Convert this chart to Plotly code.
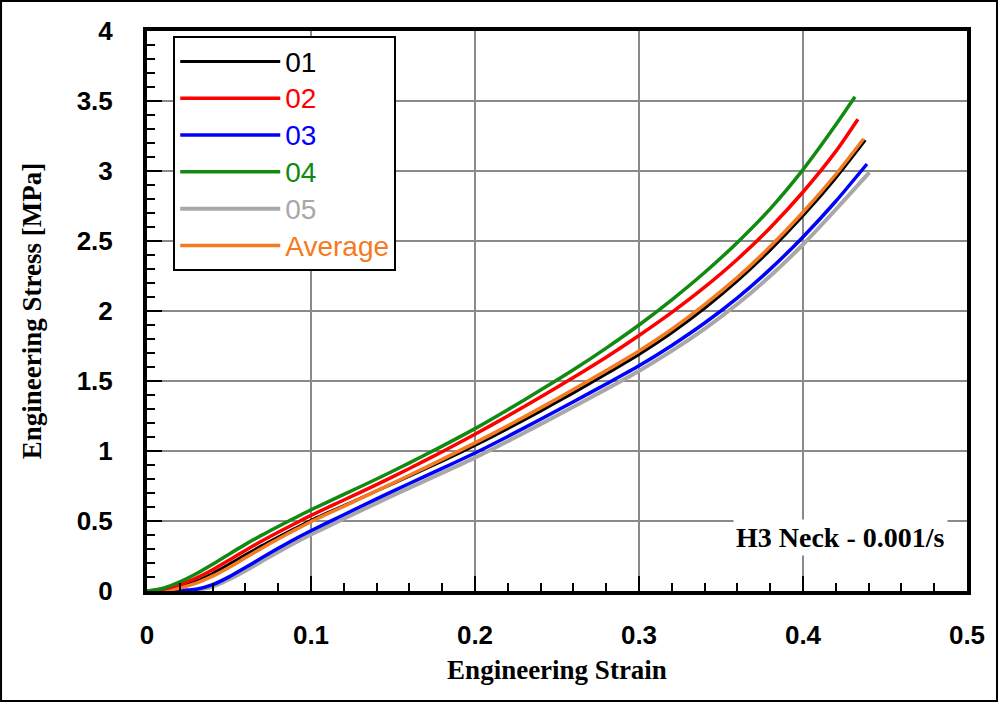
import plotly.graph_objects as go

# ---- data ----
strain_grid = [0, 0.01, 0.02, 0.03, 0.04, 0.05, 0.06, 0.07, 0.08, 0.09, 0.10,
               0.12, 0.14, 0.16, 0.18, 0.20, 0.22, 0.24, 0.26, 0.28, 0.30,
               0.32, 0.34, 0.36, 0.38, 0.40, 0.42]

end_strain_01 = 0.438
end_strain_02 = 0.4335
end_strain_03 = 0.439
end_strain_04 = 0.4317
end_strain_05 = 0.4405
end_strain_avg = 0.437

stress_01 = [0, 0.005, 0.03, 0.07, 0.125, 0.19, 0.258, 0.324, 0.386, 0.446, 0.505,
             0.61, 0.715, 0.82, 0.927, 1.04, 1.16, 1.285, 1.415, 1.55, 1.69,
             1.845, 2.02, 2.215, 2.435, 2.68, 2.95, 3.22]
stress_02 = [0, 0.012, 0.045, 0.092, 0.152, 0.22, 0.29, 0.357, 0.42, 0.48, 0.54,
             0.65, 0.76, 0.875, 0.995, 1.12, 1.25, 1.385, 1.525, 1.67, 1.825,
             1.99, 2.17, 2.37, 2.595, 2.85, 3.14, 3.37]
stress_03 = [0, 0, 0.002, 0.012, 0.045, 0.101, 0.168, 0.237, 0.305, 0.37, 0.43,
             0.545, 0.658, 0.768, 0.876, 0.986, 1.104, 1.227, 1.352, 1.479, 1.609,
             1.754, 1.914, 2.094, 2.299, 2.529, 2.784, 3.05]
stress_04 = [0, 0.02, 0.065, 0.123, 0.191, 0.263, 0.333, 0.399, 0.461, 0.521, 0.58,
             0.69, 0.80, 0.915, 1.035, 1.16, 1.295, 1.435, 1.58, 1.735, 1.90,
             2.08, 2.275, 2.49, 2.73, 3.01, 3.33, 3.53]
stress_05 = [0, 0, 0.001, 0.008, 0.032, 0.082, 0.145, 0.212, 0.279, 0.343, 0.403,
             0.516, 0.628, 0.737, 0.844, 0.953, 1.07, 1.192, 1.316, 1.442, 1.572,
             1.715, 1.873, 2.05, 2.25, 2.475, 2.725, 2.99]
stress_avg = [0, 0.004, 0.022, 0.056, 0.106, 0.168, 0.237, 0.306, 0.372, 0.435, 0.495,
              0.605, 0.715, 0.827, 0.94, 1.058, 1.18, 1.308, 1.44, 1.575, 1.715,
              1.87, 2.045, 2.24, 2.46, 2.705, 2.975, 3.23]

series_names = ["01", "02", "03", "04", "05", "Average"]
series_colors = ["#000000", "#ff0000", "#0000ff", "#108a10", "#a8a8a8", "#f57a20"]
series_stress = [stress_01, stress_02, stress_03, stress_04, stress_05, stress_avg]
series_end = [end_strain_01, end_strain_02, end_strain_03, end_strain_04,
              end_strain_05, end_strain_avg]
series_width = [3, 3.5, 3.5, 3.5, 4, 3.5]

# draw order (gray under blue, black under orange); legend order via legendrank
draw_order = [4, 0, 2, 5, 1, 3]

fig = go.Figure()
for i in draw_order:
    fig.add_trace(go.Scatter(
        x=strain_grid + [series_end[i]],
        y=series_stress[i],
        mode="lines",
        line=dict(color=series_colors[i], width=series_width[i], shape="spline", smoothing=0.7),
        name=f'<span style="color:{series_colors[i]};font-size:28px">{series_names[i]}</span>',
        legendrank=i + 1,
    ))

axis_common = dict(
    showgrid=True, gridcolor="#8a8a8a", gridwidth=2,
    showline=True, linecolor="black", linewidth=4, mirror=True,
    ticks="inside", ticklen=15, tickwidth=2, tickcolor="black",
    zeroline=False,
    tickfont=dict(family="Liberation Sans, Arial", size=26, color="black", weight="bold"),
)

fig.update_layout(
    width=999, height=712,
    margin=dict(l=147, r=32, t=31, b=121),
    plot_bgcolor="white", paper_bgcolor="white",
    font=dict(family="Liberation Sans, Arial", size=26, color="black"),
    xaxis=dict(
        range=[0, 0.5], dtick=0.1, tick0=0,
        minor=dict(dtick=0.02, ticks="inside", ticklen=8, tickwidth=2,
                   tickcolor="black", showgrid=False),
        ticklabelstandoff=18,
        title=dict(text="Engineering Strain", standoff=12,
                   font=dict(family="Liberation Serif, Times New Roman", size=27,
                             color="black", weight="bold")),
        **axis_common,
    ),
    yaxis=dict(
        range=[0, 4], dtick=0.5, tick0=0,
        minor=dict(dtick=0.1, ticks="inside", ticklen=8, tickwidth=2,
                   tickcolor="black", showgrid=False),
        ticklabelstandoff=25,
        title=dict(text="Engineering Stress [MPa]", standoff=28,
                   font=dict(family="Liberation Serif, Times New Roman", size=27,
                             color="black", weight="bold")),
        **axis_common,
    ),
    legend=dict(
        x=0.032, y=0.991, xanchor="left", yanchor="top",
        bgcolor="white", bordercolor="black", borderwidth=2,
        font=dict(family="Liberation Sans, Arial", size=26),
        itemwidth=100, traceorder="normal",
    ),
    showlegend=True,
    annotations=[dict(
        text="H3 Neck - 0.001/s", x=0.4229, y=0.379, xref="x", yref="y",
        showarrow=False, bgcolor="white", borderpad=2,
        font=dict(family="Liberation Serif, Times New Roman", size=28,
                  color="black", weight="bold"),
    )],
    shapes=[dict(
        type="rect", xref="paper", yref="paper",
        x0=-0.178, x1=1.0366, y0=-0.1964, y1=1.0536,
        line=dict(color="black", width=2), fillcolor="rgba(0,0,0,0)", layer="below",
    )],
)

fig.write_html("out.html")
